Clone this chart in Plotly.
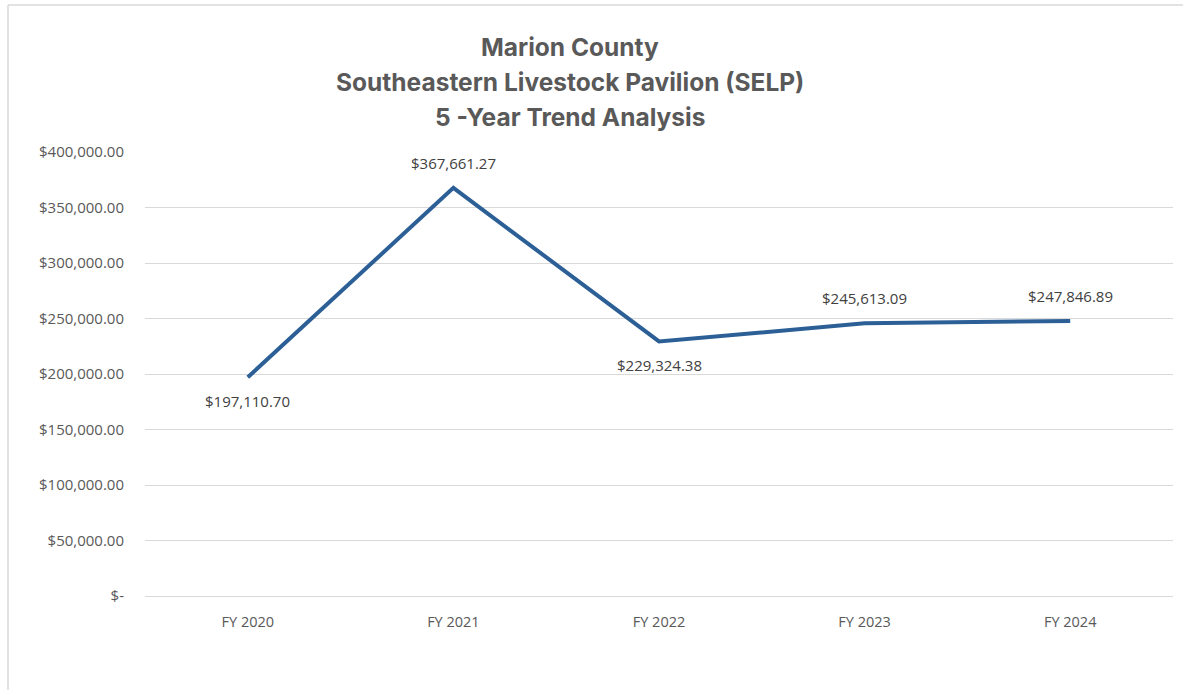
import plotly.graph_objects as go

categories = ["FY 2020", "FY 2021", "FY 2022", "FY 2023", "FY 2024"]
values = [197110.70, 367661.27, 229324.38, 245613.09, 247846.89]
label_side = ["below", "above", "below", "above", "above"]
tick_vals = [0, 50000, 100000, 150000, 200000, 250000, 300000, 350000, 400000]
tick_text = ["$-", "$50,000.00", "$100,000.00", "$150,000.00", "$200,000.00",
             "$250,000.00", "$300,000.00", "$350,000.00", "$400,000.00"]
title_lines = ["Marion County", "Southeastern Livestock Pavilion (SELP)", "5 -Year Trend Analysis"]

W, H = 1183, 690
L, R, T, B = 145, 10, 152, 94
pw, ph = W - L - R, H - T - B

FONT = "Open Sans, sans-serif"
TFONT = "Inter, sans-serif"
fig = go.Figure()
fig.add_trace(go.Scatter(
    x=list(range(len(categories))), y=values, mode="lines",
    line=dict(color="#2C5F96", width=4), hoverinfo="skip", showlegend=False,
))

annotations = []
for i, (v, side) in enumerate(zip(values, label_side)):
    annotations.append(dict(
        x=i, y=v, xref="x", yref="y", text="${:,.2f}".format(v), showarrow=False,
        yshift=25 if side == "above" else -24,
        font=dict(family=FONT, size=15, color="#404040"),
    ))
for j, t in enumerate(title_lines):
    ypx = 47 + 35 * j
    annotations.append(dict(
        x=(570 - L) / pw, xref="paper", y=(H - B - ypx) / ph, yref="paper", yanchor="middle",
        xanchor="center", text="<b>%s</b>" % t, showarrow=False,
        font=dict(family=TFONT, size=24.5, color="#595959"),
    ))

shapes = [
    dict(type="line", xref="paper", yref="paper",
         x0=(8 - L) / pw, x1=(W - L) / pw, y0=(H - B - 5) / ph, y1=(H - B - 5) / ph,
         line=dict(color="#D9D9D9", width=1.5)),
    dict(type="line", xref="paper", yref="paper",
         x0=(8 - L) / pw, x1=(8 - L) / pw, y0=(H - B - 5) / ph, y1=(H - B - H) / ph,
         line=dict(color="#D9D9D9", width=1.5)),
]

fig.update_layout(
    width=W, height=H, margin=dict(l=L, r=R, t=T, b=B),
    paper_bgcolor="white", plot_bgcolor="white",
    annotations=annotations, shapes=shapes,
    xaxis=dict(tickvals=list(range(len(categories))), ticktext=categories,
               range=[-0.5, len(categories) - 0.5], showgrid=False, zeroline=False,
               showline=False, ticks="", ticklen=0, ticklabelstandoff=15,
               tickfont=dict(family=FONT, size=14.5, color="#595959")),
    yaxis=dict(range=[0, 400000], tickvals=tick_vals, ticktext=tick_text,
               showgrid=True, gridcolor="#D9D9D9", gridwidth=1,
               zeroline=True, zerolinecolor="#D9D9D9", zerolinewidth=1,
               showline=False, ticks="", ticklabelstandoff=20,
               tickfont=dict(family=FONT, size=15, color="#595959")),
)
fig.write_html("out.html")
